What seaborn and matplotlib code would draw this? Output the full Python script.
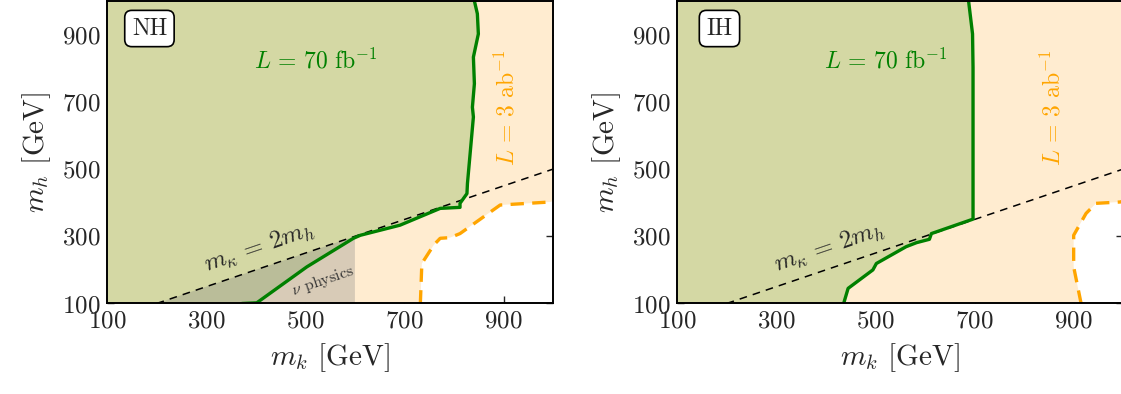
import numpy as np
import pandas as pd
import matplotlib
matplotlib.use('Agg')
import matplotlib.pyplot as plt
import seaborn as sns

# 데이터
nh_green_mk = [372, 402, 503, 597, 611, 691, 772, 812, 812, 826, 827, 839, 837, 841, 839, 849, 847, 841]
nh_green_mh = [100, 102, 209, 294, 303, 333, 383, 386, 398, 427, 457, 655, 684, 754, 833, 902, 962, 1000]
nh_orange_mk = [732, 735, 759, 772, 792, 812, 893, 994, 1000]
nh_orange_mh = [100, 219, 274, 294, 296, 308, 393, 402, 405]

ih_green_mk = [436, 438, 445, 495, 502, 562, 583, 609, 613, 697, 697, 696, 688]
ih_green_mh = [100, 110, 145, 200, 219, 269, 281, 291, 308, 351, 803, 902, 1000]
ih_orange_mk = [915, 900, 900, 925, 945, 994, 1000]
ih_orange_mh = [100, 209, 303, 368, 398, 402, 405]

nu_mk = [200, 600, 600]
nu_mh = [100, 300, 100]
diag_mk = [200, 1000]
ticks = [100, 300, 500, 700, 900]

# 스타일 설정
sns.set_style('ticks')
plt.rcParams['font.family'] = ['cmr10', 'DejaVu Serif']
plt.rcParams['mathtext.fontset'] = 'cm'
plt.rcParams['axes.formatter.use_mathtext'] = True
plt.rcParams['axes.unicode_minus'] = False

GREEN_FILL = '#d4d8a4'
ORANGE_FILL = '#ffecd0'

fig = plt.figure(figsize=(11.21, 3.94), dpi=100)
ax1 = fig.add_axes([0.0955, 0.2297, 0.398, 0.7678])
ax2 = fig.add_axes([0.604, 0.2297, 0.398, 0.7678])

panels = [
    (ax1, 'NH', nh_green_mk, nh_green_mh, nh_orange_mk, nh_orange_mh, 907, True),
    (ax2, 'IH', ih_green_mk, ih_green_mh, ih_orange_mk, ih_orange_mh, 858, False),
]

for ax, name, gx, gy, ox, oy, lab_x, show_nu in panels:
    # 3 ab^-1 영역 (주황)
    ax.fill([100] + ox + [1000, 100], [100] + oy + [1000, 1000],
            color=ORANGE_FILL, lw=0, zorder=1)
    # 70 fb^-1 영역 (녹색)
    ax.fill([100] + gx + [100], [100] + gy + [1000],
            color=GREEN_FILL, lw=0, zorder=2)
    if show_nu:
        ax.fill(nu_mk, nu_mh, color='gray', alpha=0.3, lw=0, zorder=3)
        ax.text(536, 167, r'$\nu$ physics', fontsize=11.5, rotation=18.8,
                ha='center', va='center', color='#333333', zorder=6)

    df_g = pd.DataFrame({'mk': gx, 'mh': gy})
    sns.lineplot(data=df_g, x='mk', y='mh', sort=False, estimator=None,
                 color='green', lw=2.4, ax=ax, zorder=5)
    df_o = pd.DataFrame({'mk': ox, 'mh': oy})
    sns.lineplot(data=df_o, x='mk', y='mh', sort=False, estimator=None,
                 color='orange', lw=2.4, ax=ax, zorder=5)
    ax.lines[-1].set_dashes([4, 2.5])
    df_d = pd.DataFrame({'mk': diag_mk, 'mh': [m / 2 for m in diag_mk]})
    sns.lineplot(data=df_d, x='mk', y='mh', color='black', lw=1.1, ax=ax, zorder=4)
    ax.lines[-1].set_dashes([5, 4])

    ax.text(0.095, 0.909, name, transform=ax.transAxes, fontsize=17,
            ha='center', va='center', zorder=7,
            bbox=dict(boxstyle='round,pad=0.3', fc='white', ec='black', lw=1.2))
    ax.text(520, 823, r'$L\,=\,70\ \mathrm{fb}^{-1}$', color='green', fontsize=17,
            ha='center', va='center', zorder=6)
    ax.text(lab_x, 683, r'$L\,=\,3\ \mathrm{ab}^{-1}$', color='orange', fontsize=17,
            rotation=90, ha='center', va='center', zorder=6)
    ax.text(407, 268, r'$m_\kappa\,=\,2m_h$', fontsize=18, rotation=18.8,
            ha='center', va='center', zorder=6)

    ax.set_xlim(100, 1000)
    ax.set_ylim(100, 1000)
    ax.set_xticks(ticks)
    ax.set_yticks(ticks)
    ax.set_xlabel(r'$m_k$ [GeV]', fontsize=21, labelpad=6)
    ax.set_ylabel(r'$m_h$ [GeV]', fontsize=21, labelpad=6)
    ax.tick_params(direction='in', top=True, right=True, length=5, width=1,
                   labelsize=18, pad=5)
    for sp in ax.spines.values():
        sp.set_linewidth(1.4)
        sp.set_color('black')
        sp.set_zorder(10)

plt.savefig('out.png', dpi=100)
